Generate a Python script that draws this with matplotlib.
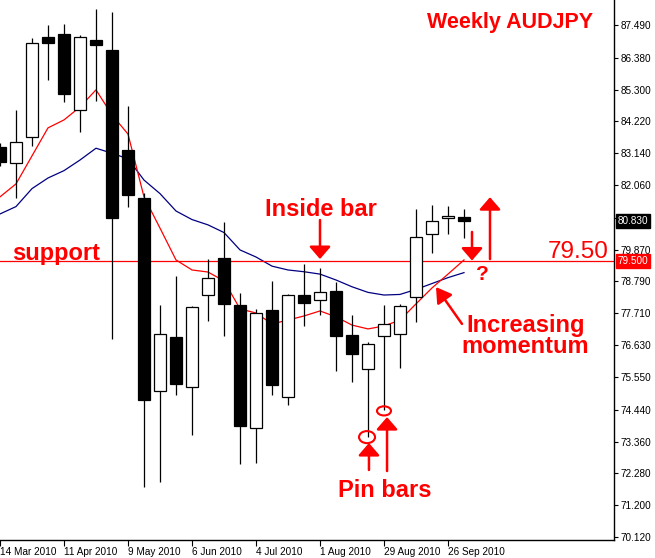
import matplotlib
matplotlib.use('Agg')
import matplotlib.pyplot as plt
from matplotlib.patches import Ellipse

# weekly AUDJPY bars, 14 Mar 2010 .. 3 Oct 2010
opens = [83.35, 82.81, 83.69, 87.08, 87.18, 84.61, 86.98, 86.64, 83.25, 81.62,
         75.08, 76.91, 75.21, 78.33, 79.59, 77.99, 73.82, 77.82, 74.87, 78.33,
         78.16, 78.47, 76.97, 75.82, 76.94, 77.01, 78.26, 80.40, 80.94, 80.97]
highs = [83.50, 84.61, 87.05, 87.49, 87.52, 87.15, 88.03, 87.93, 84.74, 81.79,
         77.99, 78.98, 77.96, 79.55, 80.81, 78.40, 77.86, 78.81, 78.36, 79.38,
         79.25, 78.77, 77.65, 76.74, 77.99, 78.03, 81.25, 81.38, 81.35, 81.25]
lows = [82.70, 81.62, 83.39, 85.62, 84.88, 83.86, 84.91, 76.84, 81.32, 71.82,
        71.99, 74.94, 73.58, 77.45, 76.94, 72.60, 72.63, 74.94, 74.60, 77.28,
        77.65, 75.75, 75.38, 73.51, 74.43, 75.86, 77.42, 79.76, 80.40, 80.27]
closes = [82.84, 83.52, 86.88, 86.88, 85.15, 87.08, 86.81, 80.94, 81.72, 74.77,
          77.01, 75.31, 77.92, 78.91, 78.03, 73.89, 77.72, 75.28, 78.33, 78.06,
          78.43, 76.94, 76.33, 76.67, 77.35, 77.96, 80.30, 80.84, 81.01, 80.83]

# moving averages (red = fast, navy = slow)
ma_fast = [81.66, 82.10, 83.05, 84.00, 84.27, 84.71, 85.29, 84.44, 83.79, 81.66,
           80.60, 79.52, 79.18, 79.11, 78.81, 77.86, 77.72, 77.35, 77.48, 77.62,
           77.79, 77.59, 77.31, 77.18, 77.28, 77.48, 78.03, 78.57, 79.04, 79.52]
ma_slow = [81.08, 81.33, 81.94, 82.30, 82.55, 82.91, 83.31, 83.14, 82.95, 82.23,
           81.77, 81.18, 80.89, 80.71, 80.45, 79.86, 79.62, 79.31, 79.18, 79.12,
           79.04, 78.84, 78.61, 78.42, 78.33, 78.35, 78.52, 78.72, 78.92, 79.09]

date_labels = ['14 Mar 2010', '11 Apr 2010', '9 May 2010', '6 Jun 2010',
               '4 Jul 2010', '1 Aug 2010', '29 Aug 2010', '26 Sep 2010']
price_ticks = [87.49, 86.38, 85.30, 84.22, 83.14, 82.06, 80.95, 79.87, 78.79,
               77.71, 76.63, 75.55, 74.44, 73.36, 72.28, 71.20, 70.12]
support = 79.50
last_price = 80.83

plt.rcParams['font.family'] = ['Liberation Sans', 'DejaVu Sans']

fig = plt.figure(figsize=(6.55, 5.58), dpi=100)
ax = fig.add_axes([0, 18 / 558, 614 / 655, 540 / 558])

x = list(range(len(opens)))
ax.plot(x, ma_slow, color='#000080', lw=0.9, zorder=1)
ax.plot(x, ma_fast, color='#ff0000', lw=0.9, zorder=1)
ax.axhline(support, color='#ff0000', lw=0.9, zorder=1)

# candles
ax.vlines(x, lows, highs, color='black', lw=0.9, zorder=2)
bottoms = [min(o, c) for o, c in zip(opens, closes)]
heights = [abs(c - o) for o, c in zip(opens, closes)]
fills = ['white' if c >= o else 'black' for o, c in zip(opens, closes)]
ax.bar(x, heights, bottom=bottoms, width=0.69, color=fills,
       edgecolor='black', lw=0.9, zorder=3)

ax.set_xlim(0, 38.375)
ax.set_ylim(70.02, 88.338)

ax.yaxis.tick_right()
ax.set_yticks(price_ticks)
ax.set_yticklabels(['%.3f' % p for p in price_ticks])
ax.set_xticks(range(0, 29, 4))
ax.set_xticklabels(date_labels, ha='left')
ax.tick_params(axis='y', length=3, width=0.8, pad=1.5, labelsize=7.2)
ax.tick_params(axis='x', length=4, width=0.8, pad=1, labelsize=7.2)
for s in ['top', 'left']:
    ax.spines[s].set_visible(False)
for s in ['right', 'bottom']:
    ax.spines[s].set_linewidth(1)

# price labels on the scale
trans = ax.get_yaxis_transform()
ax.text(1.006, last_price, '%.3f' % last_price, transform=trans, color='white',
        fontsize=7.2, va='center', ha='left', clip_on=False, zorder=6,
        bbox=dict(boxstyle='square,pad=0.2', fc='black', ec='black'))
ax.text(1.006, support, '%.3f' % support, transform=trans, color='white',
        fontsize=7.2, va='center', ha='left', clip_on=False, zorder=6,
        bbox=dict(boxstyle='square,pad=0.2', fc='#ff0000', ec='#ff0000'))

# annotations
red = '#ff0000'
bold = dict(color=red, fontweight='bold', zorder=6)
ax.text(31.875, 87.39, 'Weekly AUDJPY', fontsize=15.5, ha='center', va='baseline', **bold)
ax.text(0.75, 79.535, 'support', fontsize=17, ha='left', va='baseline', **bold)
ax.text(20.03, 81.01, 'Inside bar', fontsize=17, ha='center', va='baseline', **bold)
ax.text(38.06, 79.59, '79.50', fontsize=17.5, color=red, ha='right', va='baseline', zorder=6)
ax.text(30.125, 78.84, '?', fontsize=15, ha='center', va='baseline', **bold)
ax.text(32.83, 77.70, 'Increasing\nmomentum', fontsize=17, ha='center', va='top',
        linespacing=0.9, **bold)
ax.text(24.03, 71.48, 'Pin bars', fontsize=17, ha='center', va='baseline', **bold)


def arrow(tail, tip, hl=0.75, hw=0.65):
    ax.annotate('', xy=tip, xytext=tail, zorder=6,
                arrowprops=dict(arrowstyle='-|>,head_length=%s,head_width=%s' % (hl, hw),
                                mutation_scale=10, color=red, lw=1.8,
                                shrinkA=0, shrinkB=0))


arrow((20.0, 80.875), (20.0, 79.55))
arrow((29.5, 80.47), (29.5, 79.50))
arrow((30.625, 79.55), (30.625, 81.65))
arrow((28.875, 77.35), (27.25, 78.60), hl=0.9, hw=0.55)
arrow((23.06, 72.395), (23.06, 73.31))
arrow((24.19, 72.36), (24.19, 74.19))

ax.add_patch(Ellipse((22.94, 73.51), 1.0, 0.41, fill=False, ec=red, lw=1.5, zorder=6))
ax.add_patch(Ellipse((24.0, 74.40), 0.875, 0.31, fill=False, ec=red, lw=1.5, zorder=6))

fig.savefig('out.png', dpi=100)
